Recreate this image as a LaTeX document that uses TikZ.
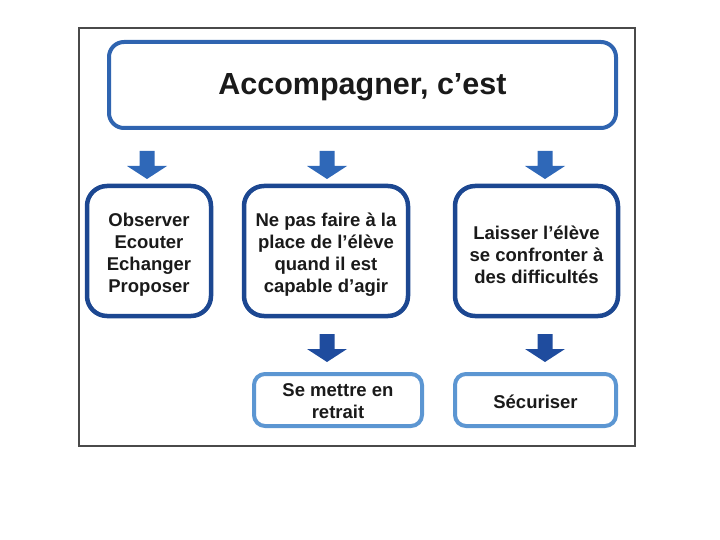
\documentclass[tikz,border=0pt]{standalone}
\usepackage{fontspec}
\setmainfont{Liberation Sans}
\definecolor{framegray}{HTML}{4A4A4A}
\definecolor{titleblue}{HTML}{2F64B0}
\definecolor{toparrow}{HTML}{2F68B8}
\definecolor{navyblue}{HTML}{1C4791}
\definecolor{lowarrow}{HTML}{1F4C9E}
\definecolor{lightblue}{HTML}{5C96D2}
\definecolor{txt}{HTML}{1A1A1A}
\newcommand\blockarrow[2]{%
  \fill[#1] ($(#2)+(-7.5,0)$) -- ($(#2)+(7.5,0)$) -- ($(#2)+(7.5,15)$) -- ($(#2)+(20,15)$)
    -- ($(#2)+(0,28)$) -- ($(#2)+(-20,15)$) -- ($(#2)+(-7.5,15)$) -- cycle;}
\usetikzlibrary{calc}
\begin{document}
\begin{tikzpicture}[x=1pt,y=-1pt,
  box/.style={draw, fill=white, inner sep=0pt},
  lbl/.style={align=center, text=txt, inner sep=0pt, font=\fontsize{18.5}{22}\selectfont\bfseries},
  titlebox/.style={box, draw=titleblue, line width=4pt, rounded corners=15pt},
  midbox/.style={box, draw=navyblue, line width=4.5pt, rounded corners=20pt,
    minimum height=130pt},
  lowbox/.style={box, draw=lightblue, line width=4pt, rounded corners=11pt,
    minimum height=52pt}]
\useasboundingbox (0,0) rectangle (720,540);
\draw[framegray, line width=1.5pt] (79,28) rectangle (635,446);
\node[titlebox, minimum width=507pt, minimum height=86pt,
  label={[lbl, font=\fontsize{30.5}{34}\selectfont\bfseries, yshift=-2.5pt]center:Accompagner, c’est}] (title) at (362.5,85) {};
\node[midbox, minimum width=124pt,
  label={[lbl, yshift=-4pt]center:Observer\\Ecouter\\Echanger\\Proposer}] (obs) at (149,251) {};
\node[midbox, minimum width=164pt,
  label={[lbl, yshift=-4pt]center:Ne pas faire à la\\place de l’élève\\quand il est\\capable d’agir}] (ne) at (326,251) {};
\node[midbox, minimum width=163pt,
  label={[lbl, yshift=-4pt]center:Laisser l’élève\\se confronter à\\des difficultés}] (lai) at (536.5,251) {};
\node[lowbox, minimum width=168pt,
  label={[lbl, yshift=-1.5pt]center:Se mettre en\\retrait}] (ret) at (338,400) {};
\node[lowbox, minimum width=161pt,
  label={[lbl, yshift=-1.5pt]center:Sécuriser}] (sec) at (535.5,400) {};
\coordinate (a1) at (147,151);
\coordinate (a2) at (327,151);
\coordinate (a3) at (545,151);
\coordinate (b1) at (327,334);
\coordinate (b2) at (545,334);
\blockarrow{toparrow}{a1}
\blockarrow{toparrow}{a2}
\blockarrow{toparrow}{a3}
\blockarrow{lowarrow}{b1}
\blockarrow{lowarrow}{b2}
\end{tikzpicture}
\end{document}
